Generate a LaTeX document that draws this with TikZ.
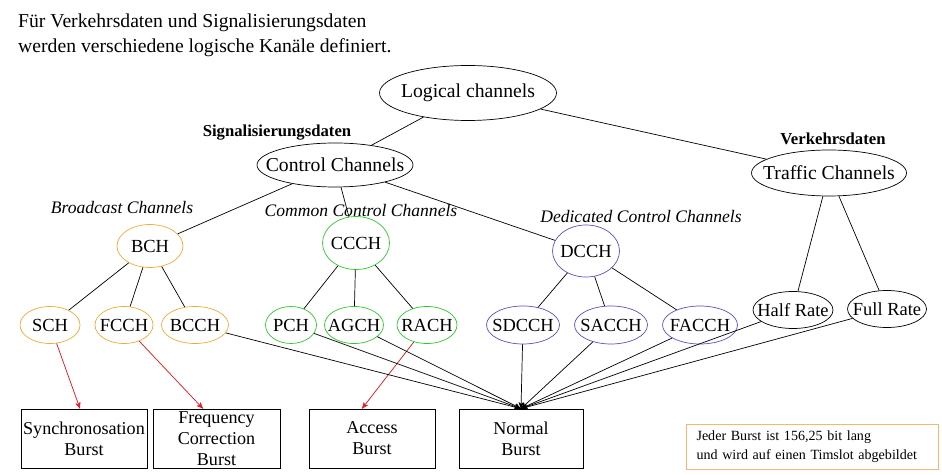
\documentclass[tikz,border=0pt]{standalone}
\usepackage{fontspec}
\setmainfont{Liberation Serif}
\usetikzlibrary{shapes, arrows, positioning, arrows.meta}

\definecolor{bcorange}{RGB}{240,170,55}
\definecolor{ccgreen}{RGB}{45,200,45}
\definecolor{dcblue}{RGB}{85,80,200}
\definecolor{burstred}{RGB}{230,30,35}
\definecolor{noteorange}{RGB}{242,185,110}

% text of an ellipse does not widen it
\newcommand{\zw}[1]{\makebox[0pt]{#1}}

\tikzset{
  chan/.style={ellipse, draw, thin, inner sep=0pt, font=\fontsize{10.5}{12}\selectfont},
  bigchan/.style={chan, font=\fontsize{11.2}{13}\selectfont},
  bcchan/.style={chan, draw=bcorange},
  ccchan/.style={chan, draw=ccgreen},
  dcchan/.style={chan, draw=dcblue},
  burst/.style={rectangle, draw, thin, inner sep=0pt, align=center,
    minimum height=1.18cm, font=\fontsize{10.3}{12}\selectfont},
  grouplbl/.style={font=\fontsize{10}{12}\selectfont\itshape},
  datalbl/.style={font=\fontsize{9.5}{11}\selectfont\bfseries},
  redarr/.style={->, draw=burstred, fill=burstred}
}

\begin{document}
\begin{tikzpicture}[x=0.02cm, y=-0.02cm, >=stealth', thin]
    \useasboundingbox (0,0) rectangle (942,475);

    \node[anchor=west, align=left, font=\fontsize{11.2}{14.2}\selectfont] (title) at (12,35.5)
        {Für Verkehrsdaten und Signalisierungsdaten\\werden verschiedene logische Kanäle definiert.};

    % top of the tree
    \node[bigchan, minimum width=3.54cm, minimum height=1.1cm] (logic) at (468,93) {\zw{Logical channels}};
    \node[bigchan, minimum width=3.12cm, minimum height=0.88cm] (ctrl) at (335,165) {\zw{Control Channels}};
    \node[bigchan, minimum width=3.1cm, minimum height=0.92cm] (traffic) at (829,173) {\zw{Traffic Channels}};
    \node[datalbl] (sig) at (277,133) {Signalisierungsdaten};
    \node[datalbl] (verk) at (833,139) {Verkehrsdaten};

    % channel groups
    \node[bcchan, minimum width=1.32cm, minimum height=0.86cm] (bch) at (150,246) {\zw{BCH}};
    \node[ccchan, minimum width=1.34cm, minimum height=1.06cm] (ccch) at (356,243) {\zw{CCCH}};
    \node[dcchan, minimum width=1.34cm, minimum height=1.04cm] (dcch) at (586,251) {\zw{DCCH}};
    \node[grouplbl] (bclbl) at (122,208) {Broadcast Channels};
    \node[grouplbl] (cclbl) at (361,210) {Common Control Channels};
    \node[grouplbl] (dclbl) at (641,216) {Dedicated Control Channels};

    % logical channels
    \node[bcchan, minimum width=1.2cm, minimum height=0.74cm] (sch) at (50,325) {\zw{SCH}};
    \node[bcchan, minimum width=1.16cm, minimum height=0.74cm] (fcch) at (124,325) {\zw{FCCH}};
    \node[bcchan, minimum width=1.34cm, minimum height=0.74cm] (bcch) at (195,325) {\zw{BCCH}};
    \node[ccchan, minimum width=1.02cm, minimum height=0.74cm] (pch) at (291,325) {\zw{PCH}};
    \node[ccchan, minimum width=1.18cm, minimum height=0.74cm] (agch) at (354,325) {\zw{AGCH}};
    \node[ccchan, minimum width=1.2cm, minimum height=0.74cm] (rach) at (427,325) {\zw{RACH}};
    \node[dcchan, minimum width=1.46cm, minimum height=0.76cm] (sdcch) at (523,325) {\zw{SDCCH}};
    \node[dcchan, minimum width=1.46cm, minimum height=0.76cm] (sacch) at (611,325) {\zw{SACCH}};
    \node[dcchan, minimum width=1.5cm, minimum height=0.76cm] (facch) at (700,325) {\zw{FACCH}};
    \node[chan, minimum width=1.6cm, minimum height=0.74cm] (half) at (793,310) {\zw{Half Rate}};
    \node[chan, minimum width=1.58cm, minimum height=0.74cm] (full) at (887,309) {\zw{Full Rate}};

    % bursts
    \node[burst, minimum width=2.52cm] (sync) at (84,438.5) {Synchronosation\\Burst};
    \node[burst, minimum width=2.54cm] (freq) at (216.5,438.5) {Frequency\\Correction\\Burst};
    \node[burst, minimum width=2.52cm] (access) at (372,438.5) {Access\\Burst};
    \node[burst, minimum width=2.48cm] (normal) at (521,438.5) {Normal\\Burst};

    \node[draw=noteorange, rectangle, align=left, inner xsep=0.21cm, inner ysep=0pt, text width=4.62cm,
          minimum height=0.9cm, font=\fontsize{8}{10.8}\selectfont]
        (note) at (812,446.5) {Jeder Burst ist 156,25 bit lang\\und wird auf einen Timslot abgebildet};

    % tree
    \path (logic) edge (ctrl)
          (logic) edge (traffic)
          (ctrl) edge (bch)
          (ctrl) edge (ccch)
          (ctrl) edge (dcch)
          (bch) edge (sch)
          (bch) edge (fcch)
          (bch) edge (bcch)
          (ccch) edge (pch)
          (ccch) edge (agch)
          (ccch) edge (rach)
          (dcch) edge (sdcch)
          (dcch) edge (sacch)
          (dcch) edge (facch)
          (traffic) edge (half)
          (traffic) edge (full);

    % mapping onto bursts
    \path (sch) edge[redarr] ([xshift=-0.08cm]sync.north)
          (fcch) edge[redarr] ([xshift=-0.27cm]freq.north)
          (rach) edge[redarr] ([xshift=-0.2cm]access.north);

    \path[->] (bcch) edge (normal.north)
          (pch) edge (normal.north)
          (agch) edge (normal.north)
          (sdcch) edge (normal.north)
          (sacch) edge (normal.north)
          (facch) edge (normal.north)
          (half) edge (normal.north)
          (full) edge (normal.north);
\end{tikzpicture}
\end{document}
